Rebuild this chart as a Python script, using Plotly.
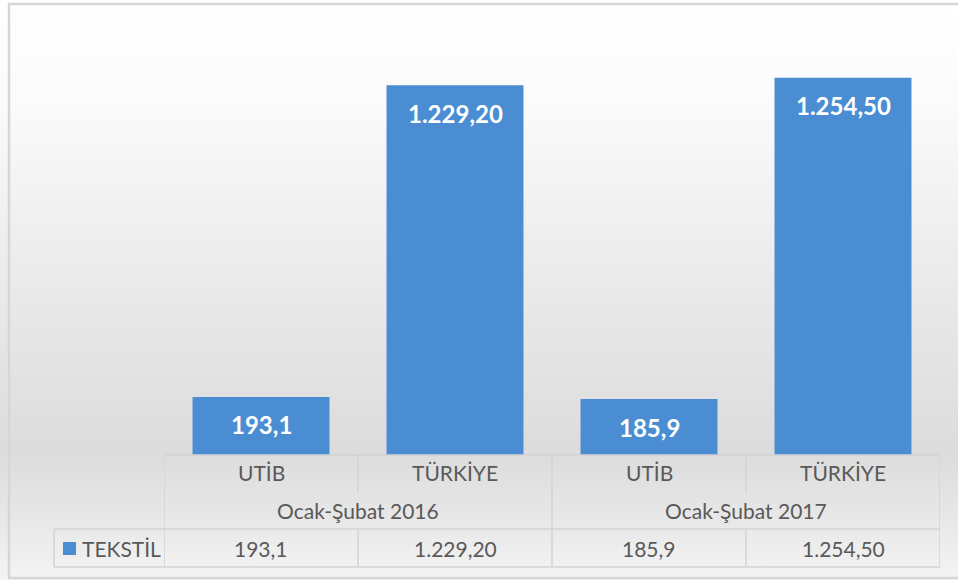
import base64
import plotly.graph_objects as go

# ---------------- data ----------------
periods = ["Ocak-Şubat 2016", "Ocak-Şubat 2017"]
regions = ["UTİB", "TÜRKİYE", "UTİB", "TÜRKİYE"]
series_name = "TEKSTİL"
values = [193.1, 1229.2, 185.9, 1254.5]
value_labels = ["193,1", "1.229,20", "185,9", "1.254,50"]

# ---------------- layout geometry ----------------
W, H = 958, 580
L, R, T, B = 164, 18, 34, 125
PW, PH = W - L - R, H - T - B
BASE = H - B  # pixel y of plot bottom


def fx(p):
    return (p - L) / PW


def fy(p):
    return (BASE - p) / PH


BAR_COLOR = "#4a8dd2"
GRID = "#d3d3d3"
TXT = "#595959"
FONT = "Lato"

xs = list(range(len(values)))

fig = go.Figure()
fig.add_trace(go.Bar(
    x=xs, y=values, name=series_name,
    marker=dict(color=BAR_COLOR, line=dict(width=0)),
    width=0.706, showlegend=False, hoverinfo="skip",
))

annotations = []
# value labels inside bar tops
for x, v, lab in zip(xs, values, value_labels):
    annotations.append(dict(
        x=x, y=v, xref="x", yref="y", text=lab, showarrow=False,
        yanchor="middle", yshift=-28,
        font=dict(family=FONT, size=24, color="white", weight="bold"),
    ))

# table: row 1 (regions), row 3 (values)
for x, reg, lab in zip(xs, regions, value_labels):
    annotations.append(dict(
        x=x, y=fy(473), xref="x", yref="paper", text=reg, showarrow=False,
        yanchor="middle", font=dict(family=FONT, size=21, color=TXT),
    ))
    annotations.append(dict(
        x=x, y=fy(548), xref="x", yref="paper", text=lab, showarrow=False,
        yanchor="middle", font=dict(family=FONT, size=21, color=TXT),
    ))
# table: row 2 (periods)
n_per = len(regions) // len(periods)
for i, per in enumerate(periods):
    center = i * n_per + (n_per - 1) / 2
    annotations.append(dict(
        x=center, y=fy(510), xref="x", yref="paper", text=per, showarrow=False,
        yanchor="middle", font=dict(family=FONT, size=21, color=TXT),
    ))
# legend key text
annotations.append(dict(
    x=fx(80), y=fy(548), xref="paper", yref="paper", text=series_name,
    showarrow=False, xanchor="left", yanchor="middle",
    font=dict(family=FONT, size=21, color=TXT),
))

shapes = []
ln = dict(color=GRID, width=1.5)
# outer frame
shapes.append(dict(type="rect", xref="paper", yref="paper",
                   x0=fx(9), x1=fx(975), y0=fy(4), y1=fy(578),
                   line=dict(color="#d6d6d6", width=2.5), layer="below"))
# horizontal table lines
shapes.append(dict(type="line", xref="paper", yref="paper",
                   x0=0, x1=1, y0=fy(455), y1=fy(455), line=ln))
for yy in (529, 567):
    shapes.append(dict(type="line", xref="paper", yref="paper",
                       x0=fx(54), x1=1, y0=fy(yy), y1=fy(yy), line=ln))
# vertical table lines
n = len(values)
for k in range(n + 1):
    xb = k - 0.5
    if k % n_per == 0:
        shapes.append(dict(type="line", xref="x", yref="paper",
                           x0=xb, x1=xb, y0=fy(455), y1=fy(567), line=ln))
    else:
        shapes.append(dict(type="line", xref="x", yref="paper",
                           x0=xb, x1=xb, y0=fy(455), y1=fy(492), line=ln))
        shapes.append(dict(type="line", xref="x", yref="paper",
                           x0=xb, x1=xb, y0=fy(529), y1=fy(567), line=ln))
shapes.append(dict(type="line", xref="paper", yref="paper",
                   x0=fx(54), x1=fx(54), y0=fy(529), y1=fy(567), line=ln))
# legend key square
shapes.append(dict(type="rect", xref="paper", yref="paper",
                   x0=fx(63), x1=fx(76), y0=fy(542), y1=fy(555),
                   fillcolor=BAR_COLOR, line=dict(width=0)))

# background gradient
svg = (
    "<svg xmlns='http://www.w3.org/2000/svg' width='958' height='580' preserveAspectRatio='none'>"
    "<defs><linearGradient id='g' x1='0' y1='0' x2='0' y2='1'>"
    "<stop offset='0' stop-color='#ffffff'/>"
    "<stop offset='0.17' stop-color='#fbfbfb'/>"
    "<stop offset='0.45' stop-color='#ececec'/>"
    "<stop offset='0.78' stop-color='#dcdcdc'/>"
    "<stop offset='0.9' stop-color='#e8e8e8'/>"
    "<stop offset='1' stop-color='#f4f4f4'/>"
    "</linearGradient></defs>"
    "<rect width='958' height='580' fill='url(#g)'/></svg>"
)
src = "data:image/svg+xml;base64," + base64.b64encode(svg.encode()).decode()

fig.update_layout(
    width=W, height=H,
    margin=dict(l=L, r=R, t=T, b=B),
    paper_bgcolor="white",
    plot_bgcolor="rgba(0,0,0,0)",
    bargap=0.294,
    xaxis=dict(range=[-0.5, n - 0.5], showticklabels=False, showgrid=False,
               zeroline=False, showline=False, fixedrange=True),
    yaxis=dict(range=[0, 1400], visible=False, fixedrange=True),
    annotations=annotations,
    shapes=shapes,
    images=[dict(source=src, xref="paper", yref="paper",
                 x=fx(0), y=fy(0), sizex=W / PW, sizey=H / PH,
                 xanchor="left", yanchor="top", sizing="stretch",
                 layer="below")],
    showlegend=False,
)

fig.write_html(
    "out.html",
    config={"displayModeBar": False},
    post_script="document.body.style.margin='0';document.body.style.overflow='hidden';",
)
